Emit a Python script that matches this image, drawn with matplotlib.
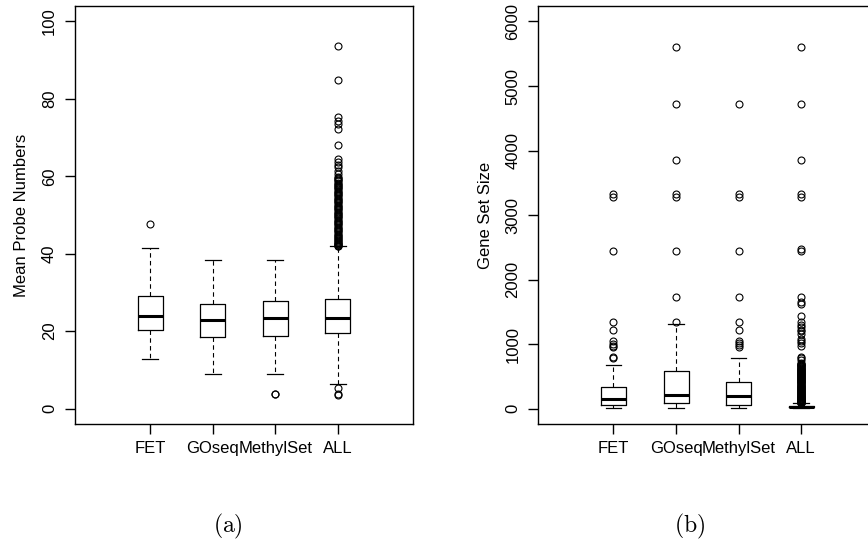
import matplotlib
matplotlib.use("Agg")
import matplotlib.pyplot as plt

plt.rcParams['font.family'] = ['Liberation Sans', 'DejaVu Sans']
plt.rcParams['mathtext.fontset'] = 'cm'

methods = ['FET', 'GOseq', 'MethylSet', 'ALL']

# (a) mean probe numbers
probe_q1 = [20.3, 18.5, 18.8, 19.4]
probe_med = [24.0, 22.9, 23.3, 23.3]
probe_q3 = [29.2, 27.1, 27.8, 28.3]
probe_whislo = [12.9, 8.9, 8.9, 6.3]
probe_whishi = [41.5, 38.4, 38.4, 41.9]
probe_fliers = [
    [47.7],
    [],
    [3.7, 3.8],
    [3.6, 3.8, 5.3,
     42.0, 42.1, 42.2, 42.4, 42.6, 42.8, 43.0, 43.2, 43.5, 43.8, 44.0, 44.3,
     44.6, 44.9, 45.2, 45.5, 45.8, 46.1, 46.4, 46.7, 47.0, 47.3, 47.6, 47.9,
     48.2, 48.5, 48.8, 49.1, 49.4, 49.7, 50.0, 50.3, 50.6, 50.9, 51.2, 51.5,
     51.8, 52.1, 52.4, 52.7, 53.0, 53.3, 53.6, 53.9, 54.2, 54.5, 54.8, 55.1,
     55.4, 55.7, 56.0, 56.3, 56.6, 56.9, 57.2, 57.5, 57.8, 58.1, 58.4, 58.7,
     59.0, 59.3, 59.6, 59.9, 60.5, 61.3, 62.4, 62.9, 63.6, 64.4,
     68.2, 72.3, 73.6, 74.2, 75.4, 84.8, 93.6],
]

# (b) gene set size
size_q1 = [51, 82, 62, 20]
size_med = [144, 212, 191, 30]
size_q3 = [336, 584, 408, 45]
size_whislo = [15, 15, 15, 10]
size_whishi = [671, 1313, 786, 82]
size_fliers = [
    [780, 795, 950, 966, 1008, 1043, 1225, 1338, 2445, 3276, 3318],
    [1338, 1736, 2445, 3276, 3318, 3850, 4724, 5612],
    [950, 980, 1010, 1043, 1225, 1338, 1736, 2445, 3276, 3318, 4724],
    [84, 88, 92, 96, 100, 105, 110, 115, 120, 126, 132, 138, 144, 150, 157,
     164, 171, 178, 185, 192, 199, 206, 213, 220, 228, 236, 244, 252, 260,
     268, 276, 284, 292, 300, 308, 316, 324, 332, 340, 348, 356, 364, 372,
     380, 388, 396, 404, 412, 420, 428, 436, 444, 452, 460, 468, 476, 484,
     492, 500, 508, 516, 524, 532, 540, 548, 556, 564, 572, 580, 588, 596,
     604, 612, 620, 628, 636, 644, 652, 660, 668, 676, 684, 692, 700,
     760, 786, 805, 966, 1018, 1040, 1080, 1150, 1205, 1225, 1260, 1300,
     1338, 1437, 1620, 1650, 1736, 2445, 2480, 3276, 3318, 3850, 4724, 5612],
]


def make_stats(q1, med, q3, lo, hi, fl):
    stats = []
    for i in range(len(methods)):
        stats.append({'q1': q1[i], 'med': med[i], 'q3': q3[i],
                      'whislo': lo[i], 'whishi': hi[i], 'fliers': fl[i],
                      'label': methods[i]})
    return stats


def draw_box(ax, stats):
    ax.bxp(stats, positions=[1, 2, 3, 4], widths=0.4, capwidths=0.25,
           boxprops=dict(color='black', linewidth=0.9),
           medianprops=dict(color='black', linewidth=2.2, solid_capstyle='butt'),
           whiskerprops=dict(color='black', linewidth=0.8, linestyle=(0, (4, 3))),
           capprops=dict(color='black', linewidth=0.9),
           flierprops=dict(marker='o', markerfacecolor='none', markeredgecolor='black',
                           markersize=5, markeredgewidth=0.8, linestyle='none'))
    ax.set_xlim(-0.2, 5.2)
    for s in ax.spines.values():
        s.set_linewidth(1.0)
    ax.tick_params(axis='both', direction='out', length=7, width=1.0, labelsize=12)
    ax.tick_params(axis='y', pad=6)
    ax.tick_params(axis='x', pad=5)


fig = plt.figure(figsize=(8.68, 5.42), dpi=100)

ax1 = fig.add_axes([0.0864, 0.2177, 0.3894, 0.7712])
draw_box(ax1, make_stats(probe_q1, probe_med, probe_q3, probe_whislo, probe_whishi, probe_fliers))
ax1.set_ylim(-4, 104)
ax1.set_yticks([0, 20, 40, 60, 80, 100])
ax1.set_yticklabels(['0', '20', '40', '60', '80', '100'], rotation=90, va='center')
ax1.set_ylabel('Mean Probe Numbers', fontsize=12, labelpad=9)

ax2 = fig.add_axes([0.6202, 0.2177, 0.3894, 0.7712])
draw_box(ax2, make_stats(size_q1, size_med, size_q3, size_whislo, size_whishi, size_fliers))
ax2.set_ylim(-240, 6240)
ax2.set_yticks([0, 1000, 2000, 3000, 4000, 5000, 6000])
ax2.set_yticklabels(['0', '1000', '2000', '3000', '4000', '5000', '6000'], rotation=90, va='center')
ax2.set_ylabel('Gene Set Size', fontsize=12, labelpad=9)

fig.text(227.7 / 868, 1 - 526 / 542, r'$\mathrm{(a)}$', ha='center', va='center', fontsize=17)
fig.text(690 / 868, 1 - 526 / 542, r'$\mathrm{(b)}$', ha='center', va='center', fontsize=17)

fig.savefig('out.png', dpi=100)
